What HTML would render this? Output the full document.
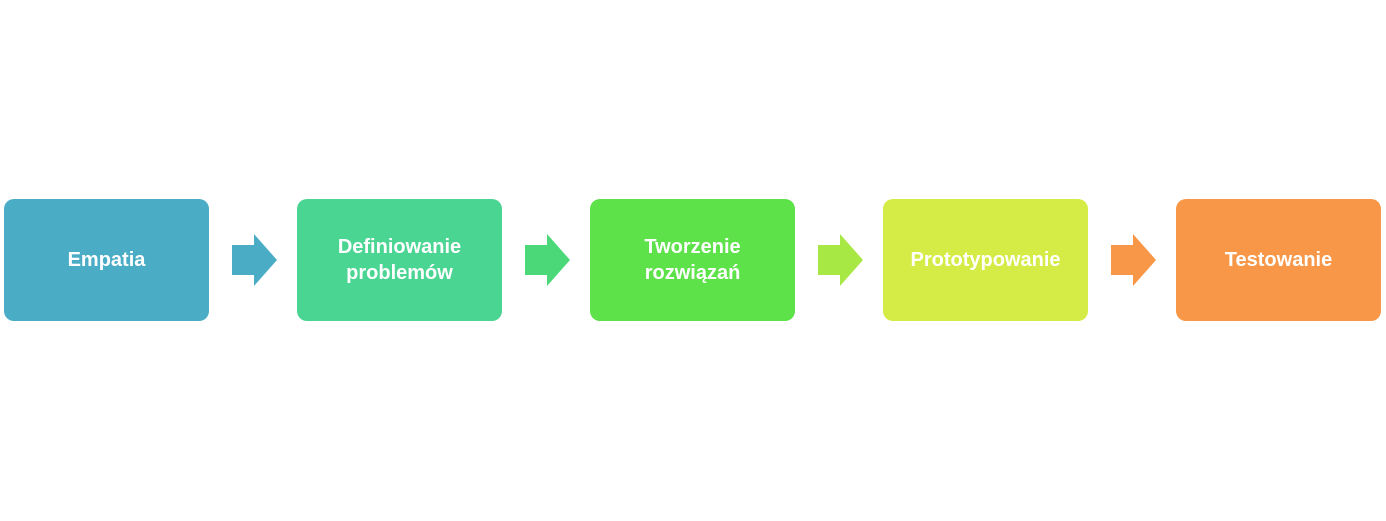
<!DOCTYPE html>
<html><head><style>
body{margin:0;width:1386px;height:521px;background:#fff;position:relative;overflow:hidden;font-family:"Liberation Sans",sans-serif}
.b{position:absolute;top:199px;width:205px;height:122px;border-radius:10px;color:#fff;font-weight:bold;font-size:20px;display:flex;align-items:center;justify-content:center;text-align:center;line-height:26px}
svg{position:absolute;top:234px}
</style></head><body>
<div class="b" style="left:4px;background:#4BACC6">Empatia</div>
<div class="b" style="left:297px;background:#4AD592">Definiowanie<br>problemów</div>
<div class="b" style="left:590px;background:#5EE24A">Tworzenie<br>rozwiązań</div>
<div class="b" style="left:883px;background:#D4EC45">Prototypowanie</div>
<div class="b" style="left:1176px;background:#F79747">Testowanie</div>
<svg style="left:232px" width="46" height="53"><polygon points="0,11 22,11 22,0 45,26 22,52 22,41 0,41" fill="#4BACC6"/></svg>
<svg style="left:525px" width="46" height="53"><polygon points="0,11 22,11 22,0 45,26 22,52 22,41 0,41" fill="#4BD878"/></svg>
<svg style="left:818px" width="46" height="53"><polygon points="0,11 22,11 22,0 45,26 22,52 22,41 0,41" fill="#A8E845"/></svg>
<svg style="left:1111px" width="46" height="53"><polygon points="0,11 22,11 22,0 45,26 22,52 22,41 0,41" fill="#F79747"/></svg>
</body></html>
